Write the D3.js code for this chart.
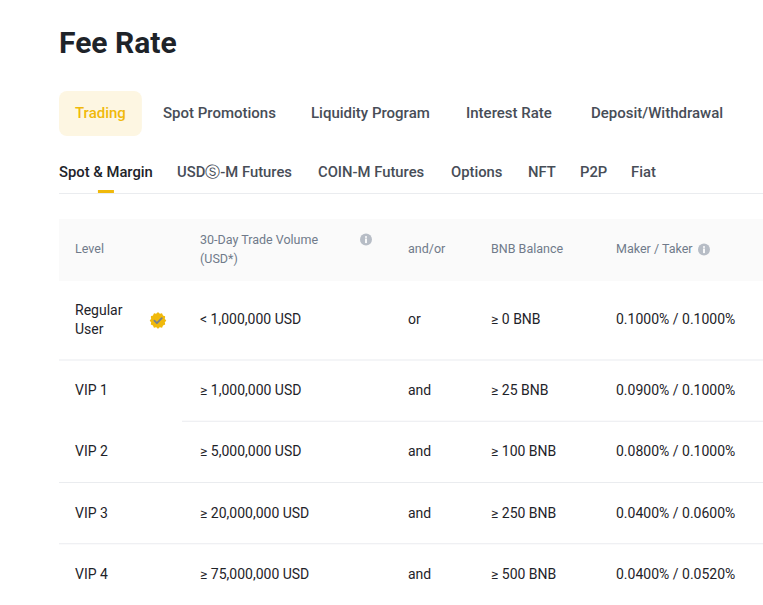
<!DOCTYPE html>
<html>
<head>
<meta charset="utf-8">
<script src="https://cdn.jsdelivr.net/npm/d3@7"></script>
<style>
  html, body { margin: 0; padding: 0; background: #fff; }
  svg { display: block; font-family: Roboto, "Liberation Sans", sans-serif; }
</style>
</head>
<body>
<div id="chart"></div>
<script>
// ---- data ----
const title = "Fee Rate";
const mainTabs = ["Trading", "Spot Promotions", "Liquidity Program", "Interest Rate", "Deposit/Withdrawal"];
const subTabs = ["Spot & Margin", "USDⓈ-M Futures", "COIN-M Futures", "Options", "NFT", "P2P", "Fiat"];
const columns = ["Level", "30-Day Trade Volume|(USD*)", "and/or", "BNB Balance", "Maker / Taker"];
const levels = ["Regular|User", "VIP 1", "VIP 2", "VIP 3", "VIP 4"];
const volumes = ["< 1,000,000 USD", "≥ 1,000,000 USD", "≥ 5,000,000 USD", "≥ 20,000,000 USD", "≥ 75,000,000 USD"];
const conjunctions = ["or", "and", "and", "and", "and"];
const bnbBalances = ["≥ 0 BNB", "≥ 25 BNB", "≥ 100 BNB", "≥ 250 BNB", "≥ 500 BNB"];
const makerFees = [0.1000, 0.0900, 0.0800, 0.0400, 0.0400];
const takerFees = [0.1000, 0.1000, 0.1000, 0.0600, 0.0520];

// ---- layout ----
const W = 763, H = 605;
const left = 59;
const svg = d3.select("#chart").append("svg").attr("width", W).attr("height", H);

const C = { dark: "#1E2329", gray: "#474D57", light: "#707A8A", line: "#EAECEF", yellow: "#F0B90B" };

// Title
svg.append("text").attr("x", left).attr("y", 53)
  .attr("font-size", 30).attr("font-weight", 700).attr("fill", C.dark).text(title);

// Main tabs
const mainX = d3.scaleOrdinal().domain(mainTabs).range([75, 163, 311, 466, 591]);
mainTabs.forEach((t, i) => {
  const g = svg.append("g");
  const txt = g.append("text").attr("x", mainX(t)).attr("y", 118)
    .attr("font-size", 15).attr("font-weight", 500)
    .attr("fill", i === 0 ? C.yellow : C.gray).text(t);
  const w = txt.node().getComputedTextLength();
  if (i === 0) {
    g.insert("rect", "text").attr("x", mainX(t) - 16).attr("y", 91).attr("width", w + 32).attr("height", 45)
      .attr("rx", 8).attr("fill", "#FDF6E2");
  }
});

// Sub tabs
const subX = d3.scaleOrdinal().domain(subTabs).range([59, 177, 318, 451, 528, 580, 631]);
subTabs.forEach((t, i) => {
  const txt = svg.append("text").attr("x", subX(t)).attr("y", 177)
    .attr("font-size", 14.8).attr("font-weight", 500)
    .attr("fill", i === 0 ? C.dark : C.gray).text(t);
  const w = txt.node().getComputedTextLength();
  if (i === 0) {
    svg.append("rect").attr("x", subX(t) + w / 2 - 8).attr("y", 190).attr("width", 16).attr("height", 3.5)
      .attr("fill", C.yellow);
  }
});
svg.append("rect").attr("x", left).attr("y", 193).attr("width", W - left).attr("height", 1).attr("fill", C.line);

// Column scale
const colX = d3.scaleOrdinal().domain(columns).range([75, 200, 408, 491, 616]);

// Header band
const headTop = 219, headBottom = 281;
svg.append("rect").attr("x", left).attr("y", headTop).attr("width", W - left).attr("height", headBottom - headTop)
  .attr("fill", "#FAFAFA");

function infoIcon(cx, cy) {
  const g = svg.append("g").attr("transform", `translate(${cx},${cy})`);
  g.append("circle").attr("r", 6).attr("fill", "#B7BDC6");
  g.append("circle").attr("cy", -2.6).attr("r", 1).attr("fill", "#fff");
  g.append("rect").attr("x", -0.9).attr("y", -1).attr("width", 1.8).attr("height", 4.6).attr("fill", "#fff");
}

columns.forEach((c, i) => {
  const lines = c.split("|");
  const t = svg.append("text").attr("x", colX(c)).attr("font-size", 12.5).attr("fill", C.light);
  if (lines.length === 1) {
    t.attr("y", 253).text(lines[0]);
  } else {
    lines.forEach((l, j) => t.append("tspan").attr("x", colX(c)).attr("y", 244 + j * 18.5).text(l));
  }
  if (i === 1) infoIcon(366, 239.5);
  if (i === 4) infoIcon(704, 249.5);
});

// Rows
const rowH = levels.map((d, i) => (i === 0 ? 79 : 61.25));
const rowTop = [headBottom].concat(Array.from(d3.cumsum(rowH), v => v + headBottom));
const fmt = d3.format(".4f");

const rows = svg.append("g").selectAll("g").data(levels).join("g")
  .attr("transform", (d, i) => `translate(0,${rowTop[i]})`);

rows.each(function (d, i) {
  const g = d3.select(this);
  const cy = rowH[i] / 2 + (i === 0 ? 3.5 : 4.5);
  const lvl = d.split("|");
  const lt = g.append("text").attr("x", colX(columns[0])).attr("font-size", 14).attr("fill", C.dark);
  if (lvl.length === 1) lt.attr("y", cy).text(lvl[0]);
  else lvl.forEach((l, j) => lt.append("tspan").attr("x", colX(columns[0])).attr("y", cy - 9.5 + j * 19.5).text(l));

  const cells = [volumes[i], conjunctions[i], bnbBalances[i], `${fmt(makerFees[i])}% / ${fmt(takerFees[i])}%`];
  cells.forEach((v, j) => {
    g.append("text").attr("x", colX(columns[j + 1])).attr("y", cy)
      .attr("font-size", 14).attr("fill", C.dark).text(v);
  });

  if (i === 0) {
    // verified badge
    const b = g.append("g").attr("transform", `translate(158,${rowH[0] / 2})`);
    const n = 12, pts = [];
    for (let k = 0; k < n * 2; k++) {
      const a = (Math.PI * k) / n;
      const r = k % 2 === 0 ? 8.2 : 7.1;
      pts.push([Math.cos(a) * r, Math.sin(a) * r]);
    }
    b.append("path").attr("d", d3.line().curve(d3.curveCardinalClosed)(pts)).attr("fill", "#F0B90B");
    b.append("path").attr("d", "M-3.6,0.2 L-1.1,2.7 L3.8,-2.4").attr("fill", "none")
      .attr("stroke", "#76808F").attr("stroke-width", 1.8).attr("stroke-linecap", "round").attr("stroke-linejoin", "round");
  }

  if (i < levels.length - 1) {
    const x0 = i === 1 ? 182 : left;
    g.append("rect").attr("x", x0).attr("y", rowH[i] - 0.5).attr("width", W - x0).attr("height", 1).attr("fill", C.line);
  }
});
</script>
</body>
</html>
